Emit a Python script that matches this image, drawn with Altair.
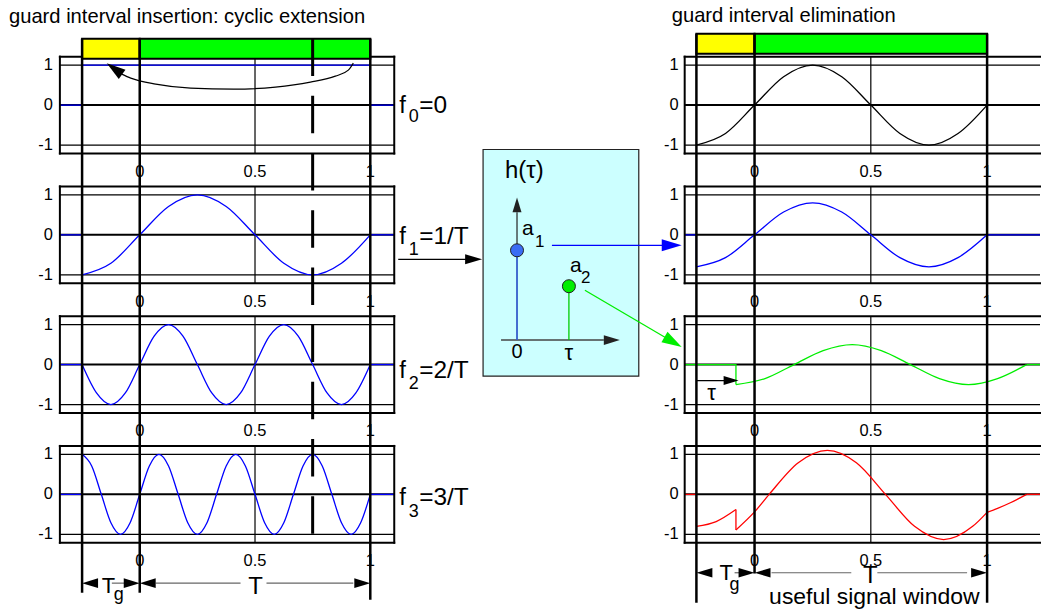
import altair as alt
import pandas as pd

FONT = "Liberation Sans"
BLUE, GREEN, RED, BLACK = "#0000ff", "#00ee00", "#ff0000", "black"
YELLOW, BARGREEN = "#ffff00", "#00ff00"

T_F0 = [-0.25, 1.0]
V_F0 = [1.0, 1.0]
T_F1 = [-0.25, -0.125, 0.0, 0.125, 0.25, 0.375, 0.5, 0.625, 0.75, 0.875, 1.0]
V_F1 = [-1, -0.71, 0, 0.71, 1, 0.71, 0, -0.71, -1, -0.71, 0]
T_F2 = [-0.25, -0.1875, -0.125, -0.0625, 0.0, 0.0625, 0.125, 0.1875, 0.25, 0.3125, 0.375,
        0.4375, 0.5, 0.5625, 0.625, 0.6875, 0.75, 0.8125, 0.875, 0.9375, 1.0]
V_F2 = [0, -0.71, -1, -0.71, 0, 0.71, 1, 0.71, 0, -0.71, -1,
        -0.71, 0, 0.71, 1, 0.71, 0, -0.71, -1, -0.71, 0]
T_F3 = [-0.25, -0.2083, -0.1667, -0.125, -0.0833, -0.0417, 0.0, 0.0417, 0.0833, 0.125,
        0.1667, 0.2083, 0.25, 0.2917, 0.3333, 0.375, 0.4167, 0.4583, 0.5, 0.5417, 0.5833,
        0.625, 0.6667, 0.7083, 0.75, 0.7917, 0.8333, 0.875, 0.9167, 0.9583, 1.0]
V_F3 = [1, 0.71, 0, -0.71, -1, -0.71,
        0, 0.71, 1, 0.71, 0, -0.71, -1, -0.71,
        0, 0.71, 1, 0.71, 0, -0.71, -1, -0.71,
        0, 0.71, 1, 0.71, 0, -0.71, -1, -0.71, 0]

V_R1 = [-1, -0.71, 0, 0.71, 1, 0.71, 0, -0.71, -1, -0.71, 0]            # on T_F1
V_R2 = [-0.8, -0.57, 0, 0.57, 0.8, 0.57, 0, -0.57, -0.8, -0.57, 0]      # on T_F1
T_R3 = [-0.08, 0.045, 0.17, 0.295, 0.42, 0.545, 0.67, 0.795, 0.92, 1.045, 1.17]
V_R3 = [-0.5, -0.35, 0, 0.35, 0.5, 0.35, 0, -0.35, -0.5, -0.35, 0]
T_R4A = [-0.25, -0.165, -0.08]
V_R4A = [-0.8, -0.68, -0.38]
T_R4B = [-0.08, 0.0, 0.063, 0.188, 0.313, 0.438, 0.563, 0.688, 0.813, 0.938, 1.0]
V_R4B = [-0.89, -0.44, 0.0, 0.79, 1.1, 0.79, 0.0, -0.8, -1.13, -0.8, -0.45]
T_R4C = [1.0, 1.045, 1.1, 1.17]
V_R4C = [-0.45, -0.35, -0.21, 0.0]

# curved "copy" arrow of the first panel
ARC_T = [-0.0779, -0.039, 0.0693, 0.2208, 0.4069, 0.5887, 0.7403, 0.8485, 0.9048, 0.9264]
ARC_V = [0.7734, 0.6736, 0.5239, 0.4241, 0.3992, 0.4491, 0.5738, 0.7235, 0.8732, 1.0478]

F_SUB = ["0", "1", "2", "3"]
F_REST = ["=0", "=1/T", "=2/T", "=3/T"]
F_BASE = [-0.207, -0.217, -0.324, -0.262]
F_SUBBASE = [-0.432, -0.516, -0.599, -0.574]

# tick labels
X_TICKS = [0, 0.5, 1]
X_TICK_LABELS = ["0", "0.5", "1"]
Y_TICKS = [1, 0, -1]
Y_TICK_LABELS = ["1", "0", "-1"]

# ---------------- layout ----------------
XL = [-0.3463, 1.1039]
XR = [-0.3004, 1.2361]
XR_END = 1.2275
YD = [-1.21, 1.21]
XM = [-2.3654, 3.2308]
YM = [0.6333, 1.7111]
W_L, W_M, W_R, H = 335, 291, 358, 97
ROW_GAP = 33
GAP_Y = -2.04
DASH = [37.5, 19.8]
DASH_OFF = [0, 33.4, 48.8, 6.9]
ARROW = "M0,0L-0.6,2L0.6,2Z"
TICK_FS = 16.5
XLAB_Y = -1.47


def sc(d):
    return alt.Scale(domain=list(d), nice=False, zero=False)


def pos(xd, yd):
    return dict(x=alt.X("x:Q", scale=sc(xd), axis=None),
                y=alt.Y("y:Q", scale=sc(yd), axis=None))


def rules(rows, xd, yd, **mk):
    df = pd.DataFrame(rows, columns=["x", "x2", "y", "y2", "w", "c"])
    return alt.Chart(df).mark_rule(clip=False, **mk).encode(
        **pos(xd, yd), x2="x2:Q", y2="y2:Q",
        strokeWidth=alt.StrokeWidth("w:Q", scale=None),
        color=alt.Color("c:N", scale=None))


def lines(segs, xd, yd, interp):
    rows = []
    for k, (xs, ys, c, w) in enumerate(segs):
        for i, (a, b) in enumerate(zip(xs, ys)):
            rows.append((a, b, k, i, c, w))
    df = pd.DataFrame(rows, columns=["x", "y", "seg", "o", "c", "w"])
    return alt.Chart(df).mark_line(interpolate=interp, clip=False).encode(
        **pos(xd, yd), detail="seg:N", order="o:Q",
        color=alt.Color("c:N", scale=None),
        strokeWidth=alt.StrokeWidth("w:Q", scale=None))


def texts(rows, xd, yd, align, baseline="alphabetic"):
    df = pd.DataFrame(rows, columns=["t", "x", "y", "fs"])
    return alt.Chart(df).mark_text(align=align, baseline=baseline, font=FONT,
                                   color="black", clip=False).encode(
        **pos(xd, yd), text="t:N", size=alt.Size("fs:Q", scale=None))


def heads(rows, xd, yd):
    df = pd.DataFrame(rows, columns=["x", "y", "ang", "L", "c"])
    df["s"] = df["L"] ** 2
    return alt.Chart(df).mark_point(shape=ARROW, filled=True, opacity=1, strokeWidth=0,
                                    clip=False).encode(
        **pos(xd, yd), angle=alt.Angle("ang:Q", scale=None),
        size=alt.Size("s:Q", scale=None), color=alt.Color("c:N", scale=None))


def rects(rows, xd, yd, stroke, sw):
    df = pd.DataFrame(rows, columns=["x", "x2", "y", "y2", "c"])
    return alt.Chart(df).mark_rect(stroke=stroke, strokeWidth=sw, clip=False).encode(
        **pos(xd, yd), x2="x2:Q", y2="y2:Q", color=alt.Color("c:N", scale=None))


def tick_labels(xd, yd, ylab_x):
    ylabs = [(t, ylab_x, v, TICK_FS) for t, v in zip(Y_TICK_LABELS, Y_TICKS)]
    xlabs = [(t, v, XLAB_Y, TICK_FS) for t, v in zip(X_TICK_LABELS, X_TICKS)]
    return [texts(ylabs, xd, yd, "right", "middle"), texts(xlabs, xd, yd, "center", "top")]


LEFT_T = [T_F0, T_F1, T_F2, T_F3]
LEFT_V = [V_F0, V_F1, V_F2, V_F3]


def grid_rows(x0, x1):
    return [(x0, x1, 1, 1, 1.2, BLACK), (x0, x1, -1, -1, 1.2, BLACK),
            (x0, x1, 0, 0, 2, BLACK), (0.5, 0.5, YD[0], YD[1], 1.2, BLACK)]


def left_panel(k):
    x0, x1 = XL
    ts, vs = LEFT_T[k], LEFT_V[k]
    L = tick_labels(XL, YD, x0 - 0.0303)
    L.append(rules(grid_rows(x0, x1), XL, YD))
    L.append(lines([([x0, -0.25, -0.25], [0, 0, vs[0]], BLUE, 1.3),
                    ([1, 1, x1], [vs[-1], 0, 0], BLUE, 1.3)], XL, YD, "linear"))
    L.append(lines([(ts, vs, BLUE, 1.3)], XL, YD, "monotone"))
    L.append(rules([(x0, x1, YD[1], YD[1], 2, BLACK), (x0, x1, YD[0], YD[0], 2, BLACK),
                    (x0, x0, YD[0], YD[1], 2, BLACK), (x1, x1, YD[0], YD[1], 2, BLACK)],
                   XL, YD, strokeCap="square"))
    if k == 0:
        L.append(rects([(-0.25, 0, 1.16, 1.66, YELLOW), (0, 1, 1.16, 1.66, BARGREEN)],
                       XL, YD, BLACK, 2))
    top = 1.66 if k == 0 else YD[1]
    bots = [GAP_Y] * 3 if k < 3 else [-2.46, -2.46, -2.635]
    L.append(rules([(x, x, top, b, 2.5, BLACK) for x, b in zip([-0.25, 0, 1], bots)], XL, YD))
    dbot = GAP_Y if k < 3 else YD[0]
    L.append(rules([(0.75, 0.75, top, dbot, 3, BLACK)], XL, YD,
                   strokeDash=DASH, strokeDashOffset=DASH_OFF[k]))
    tl = [("f", 1.1255, F_BASE[k], 24), (F_SUB[k], 1.1667, F_SUBBASE[k], 18),
          (F_REST[k], 1.2121, F_BASE[k], 24.5)]
    if k == 0:
        tl.append(("guard interval insertion: cyclic extension", -0.5671, 2.045, 20.2))
        L.append(lines([(ARC_T, ARC_V, BLACK, 1.2)], XL, YD, "monotone"))
        L.append(heads([(-0.1429, 1.0478, 306, 19, BLACK)], XL, YD))
    if k == 3:
        ya = -2.22
        L.append(lines([([-0.121, -0.048], [ya, ya], "#666666", 1.2),
                        ([0.0693, 0.4372], [ya, ya], "#666666", 1.2),
                        ([0.5498, 0.9264], [ya, ya], "#666666", 1.2)], XL, YD, "linear"))
        L.append(heads([(-0.25, ya, 270, 16, BLACK), (0, ya, 90, 16, BLACK),
                        (0, ya, 270, 16, BLACK), (1, ya, 90, 16, BLACK)], XL, YD))
        tl += [("T", -0.1645, -2.47, 22), ("g", -0.1126, -2.645, 18)]
        L.append(texts([("T", 0.502, -2.495, 24)], XL, YD, "center"))
    L.append(texts(tl, XL, YD, "left"))
    return alt.layer(*L).properties(width=W_L, height=H)


def right_panel(k):
    x0 = XR[0]
    x1 = XR_END
    L = tick_labels(XR, YD, x0 - 0.0258)
    L.append(rules(grid_rows(x0, x1), XR, YD))
    if k == 0:
        L.append(lines([(T_F1, V_R1, BLACK, 1.3)], XR, YD, "monotone"))
    elif k == 1:
        L.append(lines([([x0, -0.25, -0.25], [0, 0, V_R2[0]], BLUE, 1.3),
                        ([1, x1], [0, 0], BLUE, 1.3)], XR, YD, "linear"))
        L.append(lines([(T_F1, V_R2, BLUE, 1.3)], XR, YD, "monotone"))
    elif k == 2:
        L.append(lines([([x0, -0.08, -0.08], [0, 0, V_R3[0]], GREEN, 1.3),
                        ([1.17, x1], [0, 0], GREEN, 1.3)], XR, YD, "linear"))
        L.append(lines([(T_R3, V_R3, GREEN, 1.3)], XR, YD, "monotone"))
    else:
        L.append(lines([([x0, -0.25, -0.25], [0, 0, V_R4A[0]], RED, 1.3),
                        ([-0.08, -0.08], [V_R4A[-1], V_R4B[0]], RED, 1.3),
                        ([1.17, x1], [0, 0], RED, 1.3)], XR, YD, "linear"))
        L.append(lines([(T_R4A, V_R4A, RED, 1.3), (T_R4B, V_R4B, RED, 1.3),
                        (T_R4C, V_R4C, RED, 1.3)], XR, YD, "monotone"))
    L.append(rules([(x0, x1, YD[1], YD[1], 2, BLACK), (x0, x1, YD[0], YD[0], 2, BLACK),
                    (x0, x0, YD[0], YD[1], 2, BLACK)], XR, YD, strokeCap="square"))
    tl, tc = [], []
    if k == 0:
        L.append(rects([(-0.25, 0, 1.285, 1.785, YELLOW), (0, 1, 1.285, 1.785, BARGREEN)],
                       XR, YD, BLACK, 2))
        tl.append(("guard interval elimination", -0.3562, 2.07, 20.2))
    top = 1.785 if k == 0 else YD[1]
    bots = [GAP_Y] * 3 if k < 3 else [-2.71, -1.98, -2.71]
    L.append(rules([(x, x, top, b, 2.5, BLACK) for x, b in zip([-0.25, 0, 1], bots)], XR, YD))
    if k == 2:
        L.append(lines([([-0.249, -0.09], [-0.4, -0.4], BLACK, 1.2)], XR, YD, "linear"))
        L.append(heads([(-0.0687, -0.4, 90, 15, BLACK)], XR, YD))
        tc.append(("τ", -0.1845, -0.89, 22))
    if k == 3:
        ya = -1.96
        L.append(lines([([-0.0858, -0.0515], [ya, ya], "#666666", 1.2),
                        ([0.073, 0.416], [ya, ya], "#666666", 1.2),
                        ([0.528, 0.914], [ya, ya], "#666666", 1.2)], XR, YD, "linear"))
        L.append(heads([(-0.25, ya, 270, 16, BLACK), (0, ya, 90, 16, BLACK),
                        (0, ya, 270, 16, BLACK), (1, ya, 90, 16, BLACK)], XR, YD))
        tl += [("T", -0.1502, -2.135, 22), ("g", -0.1073, -2.385, 18)]
        tc += [("T", 0.498, -2.21, 24), ("useful signal window", 0.515, -2.735, 23)]
    if tl:
        L.append(texts(tl, XR, YD, "left"))
    if tc:
        L.append(texts(tc, XR, YD, "center"))
    return alt.layer(*L).properties(width=W_R, height=H)


def middle_panel():
    L = [rects([(-0.6538, 2.3462, -0.4, 2.1222, "#ccffff")], XM, YM, "#222222", 1.2)]
    L.append(lines([([0, 0], [0, 1.4222], "#222222", 1.2),
                    ([-0.3077, 1.673], [0, 0], "#444444", 1.5)], XM, YM, "linear"))
    L.append(lines([([0, 0], [0, 1], "#3366ff", 1.3),
                    ([1, 1], [0, 0.6], "#00cc00", 1.3),
                    ([-2.2885, -0.98], [0.9, 0.9], BLACK, 1.3),
                    ([0.673, 2.827], [1.0556, 1.0556], BLUE, 1.3),
                    ([1.3077, 2.875], [0.5556, 0.0233], GREEN, 1.3)], XM, YM, "linear"))
    L.append(heads([(0, 1.5889, 0, 15, "#222222"), (1.9808, 0, 90, 16, "#222222"),
                    (-0.673, 0.9, 90, 17, BLACK), (3.1731, 1.0556, 90, 20, BLUE),
                    (3.1731, -0.0778, 120.4, 20, GREEN)], XM, YM))
    cdf = pd.DataFrame({"x": [0, 1], "y": [1, 0.6], "c": ["#3a6cf4", "#00ee00"]})
    L.append(alt.Chart(cdf).mark_point(shape="circle", filled=True, size=170, opacity=1,
                                       stroke="#222222", strokeWidth=1, clip=False).encode(
        **pos(XM, YM), color=alt.Color("c:N", scale=None)))
    L.append(texts([("h(τ)", -0.2308, 1.808, 24), ("a", 0.0962, 1.1667, 21),
                    ("1", 0.346, 1.0333, 17), ("a", 1.0192, 0.7556, 21),
                    ("2", 1.2308, 0.6333, 17)], XM, YM, "left"))
    L.append(texts([("0", 0, -0.2, 20), ("τ", 1, -0.222, 22)], XM, YM, "center"))
    return alt.layer(*L).properties(width=W_M, height=H)


def empty_cell():
    df = pd.DataFrame({"x": [0.0], "y": [0.0]})
    return alt.Chart(df).mark_point(opacity=0).encode(
        x=alt.X("x:Q", axis=None), y=alt.Y("y:Q", axis=None)).properties(width=W_M, height=H)


cells = [left_panel(0), empty_cell(), right_panel(0),
         left_panel(1), middle_panel(), right_panel(1),
         left_panel(2), empty_cell(), right_panel(2),
         left_panel(3), empty_cell(), right_panel(3)]

chart = alt.concat(*cells, columns=3, spacing={"row": ROW_GAP, "column": 0},
                   bounds="flush").properties(
    padding={"left": 8, "top": 5.2, "right": 0, "bottom": 0}
).configure(font=FONT).configure_view(stroke=None)

chart.save("out.html", embed_options={"renderer": "svg", "actions": False})
